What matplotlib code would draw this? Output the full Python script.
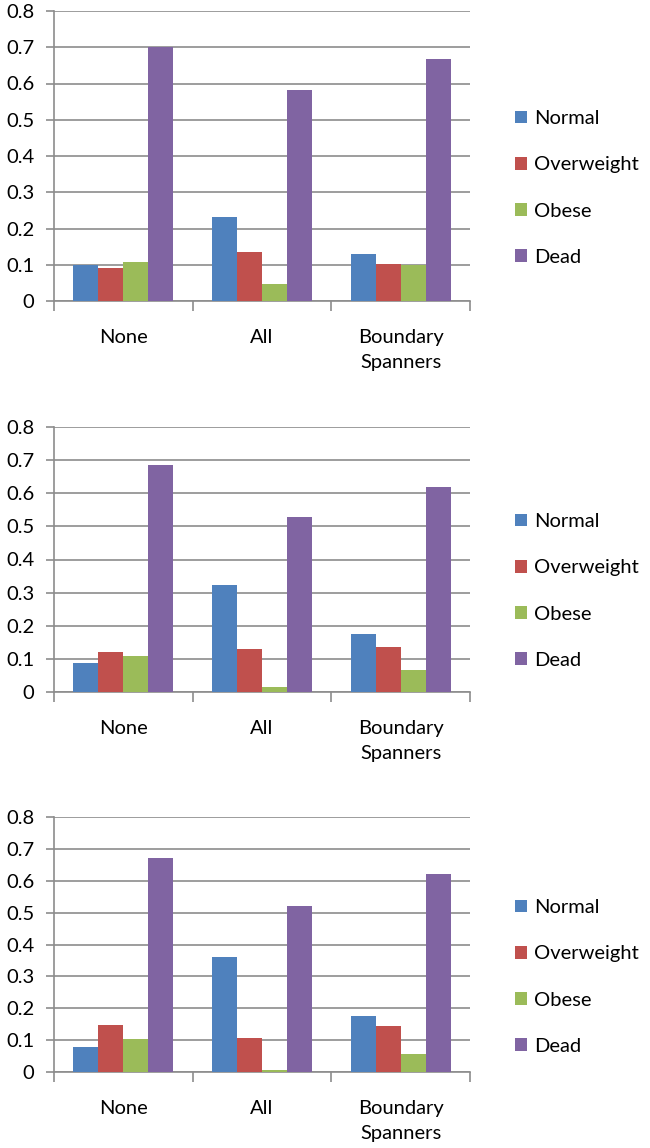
import numpy as np
import matplotlib.pyplot as plt
from matplotlib.ticker import FixedLocator

plt.rcParams['font.family'] = ['Lato', 'DejaVu Sans']

categories = ['None', 'All', 'Boundary\nSpanners']
series = ['Normal', 'Overweight', 'Obese', 'Dead']
colors = ['#4F81BD', '#C0504D', '#9BBB59', '#8064A2']
yticks = [0, 0.1, 0.2, 0.3, 0.4, 0.5, 0.6, 0.7, 0.8]
yticklabels = ['0', '0.1', '0.2', '0.3', '0.4', '0.5', '0.6', '0.7', '0.8']

# 各パネルの値 (Normal, Overweight, Obese, Dead) x (None, All, Boundary Spanners)
panel1 = [[0.100, 0.233, 0.130],
          [0.092, 0.135, 0.103],
          [0.108, 0.048, 0.099],
          [0.700, 0.582, 0.667]]
panel2 = [[0.087, 0.324, 0.176],
          [0.120, 0.130, 0.137],
          [0.108, 0.014, 0.067],
          [0.684, 0.529, 0.620]]
panel3 = [[0.080, 0.362, 0.176],
          [0.148, 0.108, 0.145],
          [0.102, 0.006, 0.057],
          [0.671, 0.521, 0.621]]

W, H = 650, 1148
fig = plt.figure(figsize=(W / 100, H / 100), dpi=100)

# (top, bottom, legend center) in pixels
layout = [(11, 301, 188), (427, 692, 591), (817, 1072, 977)]
panels = [panel1, panel2, panel3]

x = np.arange(len(categories))
bw = 0.18
grid_c = '#8C8C8C'
fs = 14.5

for data, (top, bot, leg_y) in zip(panels, layout):
    ax = fig.add_axes([54 / W, (H - bot) / H, 416 / W, (bot - top) / H])
    for i, (name, c) in enumerate(zip(series, colors)):
        ax.bar(x + (i - 1.5) * bw, data[i], bw, color=c, label=name, zorder=3)
    ax.set_xlim(-0.5, 2.5)
    ax.set_ylim(0, 0.8)
    ax.set_yticks(yticks)
    ax.set_yticklabels(yticklabels)
    ax.yaxis.grid(True, color=grid_c, linewidth=1.2, zorder=0)
    ax.set_xticks(x)
    ax.set_xticklabels(categories, linespacing=1.6)
    ax.xaxis.set_minor_locator(FixedLocator([-0.5, 0.5, 1.5, 2.5]))
    ax.tick_params(axis='x', which='major', length=0, pad=20, labelsize=fs)
    ax.tick_params(axis='x', which='minor', length=7, color=grid_c, width=1.2)
    ax.tick_params(axis='y', length=6, color=grid_c, width=1.2, labelsize=fs, pad=8)
    for s in ['top', 'right']:
        ax.spines[s].set_visible(False)
    for s in ['left', 'bottom']:
        ax.spines[s].set_color(grid_c)
        ax.spines[s].set_linewidth(1.2)
    ax.legend(loc='center left', bbox_to_anchor=(505 / W, (H - leg_y) / H),
              bbox_transform=fig.transFigure, frameon=False, fontsize=fs,
              handlelength=0.6, handleheight=0.6, handletextpad=0.35,
              labelspacing=1.45, borderpad=0)

fig.savefig('out.png', dpi=100)
